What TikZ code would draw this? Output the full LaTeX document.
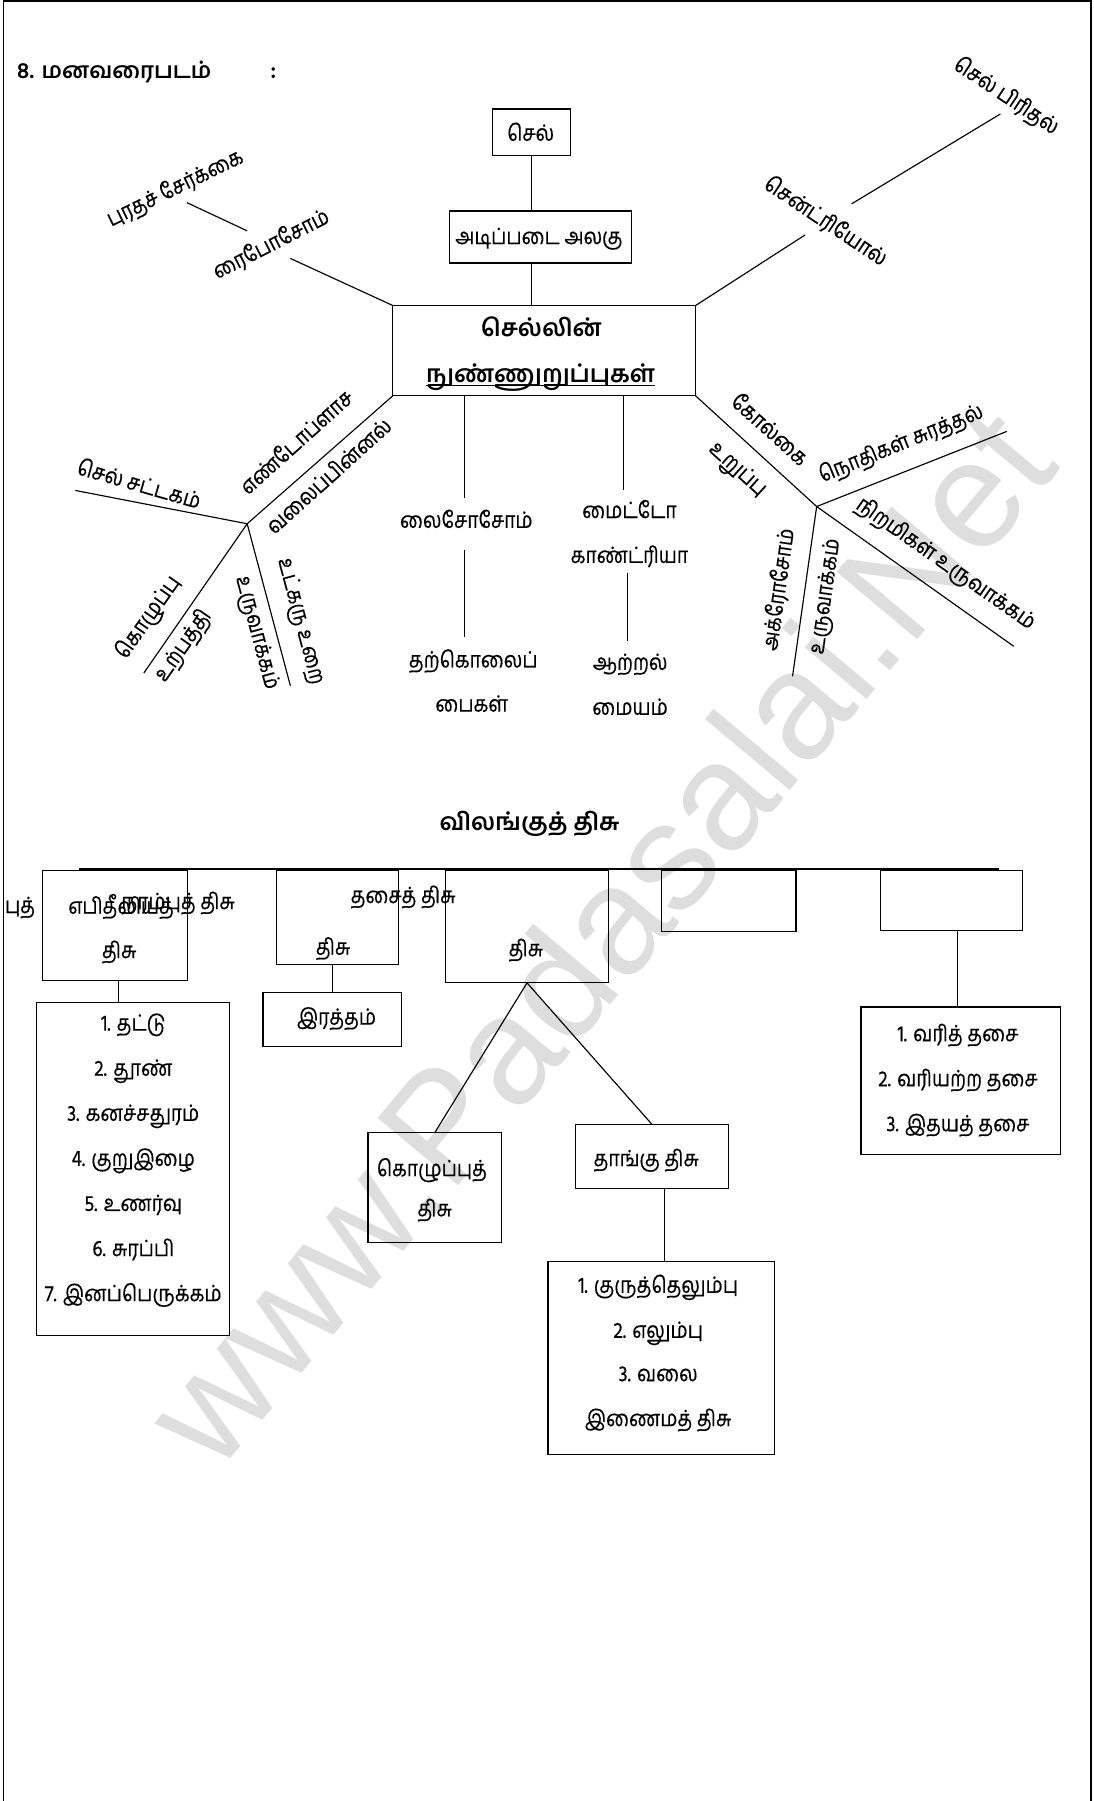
\documentclass[tikz,border=0pt]{standalone}
\usepackage{fontspec}
\setmainfont{Hind Madurai}[Script=Tamil]
\newfontfamily\tafont{Hind Madurai}[Script=Tamil,FakeStretch=0.86,FakeBold=0.4]
\newfontfamily\wmfont{Liberation Sans}
\begin{document}
\begin{tikzpicture}[x=1pt,y=-1pt,
  every node/.style={inner sep=0pt,outer sep=0pt},
  ln/.style={line width=1pt},
  bx/.style 2 args={draw,line width=1.1pt,minimum width=#1pt,minimum height=#2pt},
  tx/.style={font=\tafont\fontsize{19.5}{22}\selectfont,text height=14pt,text depth=5pt},
  bt/.style={font=\bfseries\fontsize{21}{24}\selectfont,text height=15pt,text depth=5pt},
  ht/.style={font=\bfseries\fontsize{19.5}{22}\selectfont,text height=14pt,text depth=4.8pt},
  wm/.style={font=\wmfont\fontsize{133}{133}\selectfont,text=black!13}
]
\useasboundingbox (0,0) rectangle (952,1568);
% watermark
\node[wm,rotate=50] (wmk) at (520,815) {www.Padasalai.Net};
% page frame
\draw[line width=1.2pt] (3,1568) -- (3,1) -- (950,1) -- (950,1568);
% title
\node[ht,anchor=west] (title) at (15,64) {8. மனவரைபடம்};
\node[ht] (colon) at (238,64) {:};

% ---------- mind map ----------
\node[bx={67.9}{40.9}] (cell) at (463,115.25) {};
\node[tx] (celltx) at (462,118) {செல்};
\node[bx={158.4}{45.3}] (base) at (470.8,206.25) {};
\node[tx] (basetx) at (469.2,208) {அடிப்படை அலகு};
\node[bx={263.6}{78.6}] (central) at (473.8,305.3) {};
\node[bt] (c1) at (471.3,287.7) {செல்லின்};
\node[bt] (c2) at (470.6,328.3) {நுண்ணுறுப்புகள்};
\draw[line width=1.1pt] ([yshift=-2.5pt]c2.base west) -- ([yshift=-2.5pt]c2.base east);
\draw[ln] (cell.south) -- (cell.south |- base.north);
\draw[ln] (cell.south |- base.south) -- (cell.south |- central.north);

% upper left
\node[tx,rotate=26] (prot) at (153,165) {புரதச் சேர்க்கை};
\node[tx,rotate=27] (ribo) at (236.7,214) {ரைபோசோம்};
\coordinate (r1) at (162.7,176.4); \coordinate (r2) at (215.2,201);
\coordinate (r3) at (252.8,225);
\draw[ln] (r1) -- (r2);
\draw[ln] (r3) -- (central.north west);

% upper right
\node[tx,rotate=-33.6] (divi) at (875.4,84.8) {செல் பிரிதல்};
\node[tx,rotate=-33.7] (cent) at (718,194) {சென்ட்ரியோல்};
\coordinate (s1) at (741.4,177.5); \coordinate (s2) at (871,99.2);
\coordinate (s3) at (701,204.5);
\draw[ln] (s1) -- (s2);
\draw[ln] (central.north east) -- (s3);

% lower left group
\coordinate (J1) at (215.2,456);
\coordinate (l1) at (65.6,427);
\coordinate (l2) at (125.2,586);
\coordinate (l3) at (252.8,597);
\draw[ln] (central.south west) -- (J1);
\draw[ln] (J1) -- (l1);
\draw[ln] (J1) -- (l2);
\draw[ln] (J1) -- (l3);
\node[tx,rotate=42] (er1) at (259.5,386.4) {எண்டோப்ளாச};
\node[tx,rotate=42] (er2) at (287.7,416) {வலைப்பின்னல்};
\node[tx,rotate=-16] (wall) at (120.6,423.5) {செல் சட்டகம்};
\node[tx,rotate=55] (fat1) at (129.8,538) {கொழுப்பு};
\node[tx,rotate=55] (fat2) at (160.3,562.7) {உற்பத்தி};
\node[tx,rotate=-75] (nm1) at (261,541) {உட்கரு உறை};
\node[tx,rotate=-75] (nm2) at (222.9,551) {உருவாக்கம்};

% middle
\node[tx] (lys) at (406,455) {லைசோசோம்};
\node[tx] (sui1) at (412,576.6) {தற்கொலைப்};
\node[tx] (sui2) at (410.6,615) {பைகள்};
\coordinate (m1) at (404.5,433.6);
\coordinate (m2) at (404.5,478.6); \coordinate (m3) at (404.5,555);
\draw[ln] (central.south -| m1) -- (m1);
\draw[ln] (m2) -- (m3);
\node[tx] (mit1) at (548,446.5) {மைட்டோ};
\node[tx] (mit2) at (548,485.6) {காண்ட்ரியா};
\node[tx] (pow1) at (548.6,578.7) {ஆற்றல்};
\node[tx] (pow2) at (548.6,617.8) {மையம்};
\coordinate (n1) at (543,427);
\coordinate (n2) at (546.5,499); \coordinate (n3) at (546.5,558);
\draw[ln] (central.south -| n1) -- (n1);
\draw[ln] (n2) -- (n3);

% right group
\coordinate (J2) at (711,441);
\coordinate (q1) at (876.5,375.6);
\coordinate (q2) at (882.6,562.7);
\coordinate (q3) at (690,588.8);
\draw[ln] (central.south east) -- (J2);
\draw[ln] (J2) -- (q1);
\draw[ln] (J2) -- (q2);
\draw[ln] (J2) -- (q3);
\node[tx,rotate=-42] (gol1) at (668.8,375.6) {கோல்கை};
\node[tx,rotate=-42] (gol2) at (641.7,409) {உறுப்பு};
\node[tx,rotate=22] (enz) at (785,387.3) {நொதிகள் சுரத்தல்};
\node[tx,rotate=-35] (pig) at (822.8,491.7) {நிறமிகள் உருவாக்கம்};
\node[tx,rotate=82] (acr1) at (679.4,513.4) {அக்ரோசோம்};
\node[tx,rotate=82] (acr2) at (719.3,519.2) {உருவாக்கம்};

% ---------- animal tissue ----------
\node[bt] (tis) at (461,718) {விலங்குத் திசு};
\coordinate (h1) at (68.7,756.5); \coordinate (h2) at (869.7,756.5);
\draw[line width=1.3pt] (h1) -- (h2);

\node[bx={126.1}{96}] (b1) at (100.25,805.6) {};
\node[bx={106}{82.1}] (b2) at (294,798.65) {};
\node[bx={142.3}{98.1}] (b3) at (458.85,806.65) {};
\node[bx={117.2}{53.7}] (b4) at (634.4,784.45) {};
\node[bx={123.8}{52.4}] (b5) at (828.3,783.8) {};

\node[tx,anchor=east] (frag) at (30.5,790.4) {புத்};
\node[tx,anchor=west] (epi) at (59.5,791) {எபிதீலியத்};
\node[tx,anchor=east] (ner) at (204.5,787) {நரம்புத் திசு};
\node[tx] (b1t) at (103.8,829.6) {திசு};
\node[tx] (mus) at (351,781.7) {தசைத் திசு};
\node[tx] (b2t) at (290,826.7) {திசு};
\node[tx] (b3t) at (457.9,828) {திசு};

% epithelial list
\node[bx={168}{290.5}] (epil) at (116,1017.75) {};
\draw[ln] ([xshift=3pt]b1.south) -- ([xshift=3pt]b1.south |- epil.north);
\foreach \t [count=\i from 0] in {1. தட்டு,2. தூண்,3. கனச்சதுரம்,4. குறுஇழை,5. உணர்வு,6. சுரப்பி,7. இனப்பெருக்கம்}
  \node[tx] (ep\i) at (116,892.8+39.25*\i) {\t};

% blood
\node[bx={120.5}{46.4}] (blood) at (289.25,887.6) {};
\node[tx] (bloodt) at (293,887.6) {இரத்தம்};
\draw[ln] (blood.north) -- (blood.north |- b2.south);

% connective branches
\node[bx={116}{95.7}] (fat) at (378.5,1034) {};
\node[tx] (fatt1) at (376,1019.5) {கொழுப்புத்};
\node[tx] (fatt2) at (378.5,1054.4) {திசு};
\node[bx={133.4}{56}] (sup) at (567.7,1007) {};
\node[tx] (supt) at (562.7,1010.8) {தாங்கு திசு};
\draw[ln] (b3.south) -- (fat.north);
\draw[ln] (b3.south) -- (sup.north);
\node[bx={197.2}{167.6}] (supl) at (575.8,1182.3) {};
\draw[ln] ([xshift=3pt]supl.north) -- ([xshift=3pt]supl.north |- sup.south);
\node[tx] (sl1) at (573,1121) {1. குருத்தெலும்பு};
\node[tx] (sl2) at (573,1160.2) {2. எலும்பு};
\node[tx] (sl3) at (573,1198) {3. வலை};
\node[tx] (sl4) at (573,1237.1) {இணைமத் திசு};

% muscle list
\node[bx={173.8}{128.2}] (musl) at (836.4,940.9) {};
\draw[ln] ([xshift=-3pt]musl.north) -- ([xshift=-3pt]musl.north |- b5.south);
\node[tx] (ml1) at (834,902) {1. வரித் தசை};
\node[tx] (ml2) at (834,941.2) {2. வரியற்ற தசை};
\node[tx] (ml3) at (834,980.4) {3. இதயத் தசை};
\end{tikzpicture}
\end{document}
